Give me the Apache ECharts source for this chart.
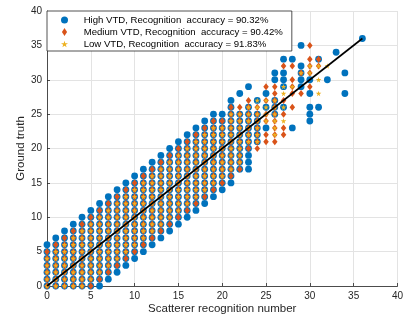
<!DOCTYPE html>
<head>
    <meta charset="utf-8">
    <title>ECharts</title>
    <script src="https://cdn.jsdelivr.net/npm/echarts@6/dist/echarts.min.js"></script>
    <style>
        html, body { margin: 0; padding: 0; background: #fff; }
    </style>
</head>
<body>
    <div id="container" style="width:406px;height:325px"></div>
    <script type="text/javascript">

        // scatterer recognition number (x) for each column
        var xCols = [0, 1, 2, 3, 4, 5, 6, 7, 8, 9, 10, 11, 12, 13, 14, 15, 16, 17, 18,
                     19, 20, 21, 22, 23, 24, 25, 26, 27, 28, 29, 30, 31, 32, 33, 34, 35, 36];

        // ground truth values found in each column ("a-b" is a run of integers)
        var highCols = ['0-6', '0-7', '0-8', '0-9', '0-10', '0-11', '0-12', '1-13', '2-14', '3-15',
                        '4-16', '5-17', '6-18', '7-19', '8-20', '9-21', '10-22', '11-23', '12-24', '13-25',
                        '14-25', '15-27', '17-25,28', '17-26,29', '21-25,27', '23,26,28', '25-27,30,31',
                        '26,29-31,33', '23,33', '29-32,35', '24-26,28,30', '26,33', '30', '34', '28,31', '', '36'];

        var mediumCols = ['0-5', '0-6', '0-7', '0-8', '0-9', '0-10', '1-11', '2-12', '3-13', '4-14',
                          '5-15', '6-16', '7-17', '8-18', '9-19', '10-20', '11-21', '12-22', '13-23', '14-24',
                          '15-24', '16-26', '17-26', '20-27', '20-26', '21,22,24,25,27,29', '21-29',
                          '22,23,25,27,32', '26,28-30,32', '28,31', '29,31-33,35', '32,33', '', '', '', '', ''];

        var lowCols = ['0-4', '0-5', '0-6', '0-7', '0-8', '1-9', '2-10', '3-11', '4-12', '5-13',
                       '6-14', '7-15', '8-16', '9-17', '10-18', '11-19', '12-20', '13-21', '14-22', '15-23',
                       '16-23', '17-25', '18-25', '21-26', '21-27', '24-27', '22-27',
                       '24,26,28,29', '29', '31', '31,32', '28,30,32', '32', '', '', '', ''];

        var seriesNames = ['High VTD, Recognition  accuracy = 90.32%',
                           'Medium VTD, Recognition  accuracy = 90.42%',
                           'Low VTD, Recognition  accuracy = 91.83%'];

        // y = x reference line
        var refLine = [[0, 0], [36, 36]];

        function toPoints(cols) {
            var pts = [];
            for (var i = 0; i < cols.length; i++) {
                if (!cols[i]) continue;
                var parts = cols[i].split(',');
                for (var j = 0; j < parts.length; j++) {
                    var p = parts[j].split('-');
                    var a = +p[0], b = p.length > 1 ? +p[1] : a;
                    for (var y = a; y <= b; y++) pts.push([xCols[i], y]);
                }
            }
            return pts;
        }

        var starPath = 'path://M50,0 L61,35 L98,35 L68,57 L79,91 L50,70 L21,91 L32,57 L2,35 L39,35 Z';
        var diamondPath = 'path://M32,0 L64,50 L32,100 L0,50 Z';
        var axisColor = '#262626';
        var fontFamily = '"Liberation Sans", Arial, sans-serif';

        var dom = document.getElementById("container");
        var myChart = echarts.init(dom, null, { renderer: 'canvas' });

        var axisCommon = {
            type: 'value',
            min: 0,
            max: 40,
            interval: 5,
            nameLocation: 'middle',
            nameMoveOverlap: false,
            nameTextStyle: { color: axisColor, fontSize: 11.5, fontFamily: fontFamily },
            axisLine: { show: true, lineStyle: { color: axisColor, width: 0.8 } },
            axisTick: { show: true, inside: true, length: 3, lineStyle: { color: axisColor, width: 0.8 } },
            axisLabel: { color: axisColor, fontSize: 10, fontFamily: fontFamily },
            splitLine: { show: true, lineStyle: { color: '#e3e3e3', width: 1 } }
        };

        var option = {
            animation: false,
            backgroundColor: '#fff',
            grid: { left: 47, right: 8, top: 11, bottom: 39, containLabel: false },
            legend: {
                data: [
                    { name: seriesNames[0], icon: 'circle' },
                    { name: seriesNames[1], icon: diamondPath },
                    { name: seriesNames[2], icon: starPath }
                ],
                formatter: function (name) { return '    ' + name; },
                orient: 'vertical',
                left: 47,
                top: 11,
                itemWidth: 7,
                itemHeight: 8,
                itemGap: 2,
                padding: [4, 9, 2, 14],
                backgroundColor: '#fff',
                borderColor: axisColor,
                borderWidth: 0.8,
                borderRadius: 0,
                textStyle: { color: '#000', fontSize: 9.6, fontFamily: fontFamily }
            },
            xAxis: echarts.util.merge({
                name: 'Scatterer recognition number',
                nameGap: 17,
                axisLabel: { margin: 5 }
            }, axisCommon),
            yAxis: echarts.util.merge({
                name: 'Ground truth',
                nameGap: 20,
                axisLabel: { margin: 5 }
            }, axisCommon),
            series: [
                {
                    name: seriesNames[0],
                    type: 'scatter',
                    symbol: 'circle',
                    symbolSize: 6.8,
                    itemStyle: { color: '#0072BD', opacity: 1 },
                    data: toPoints(highCols)
                },
                {
                    name: seriesNames[1],
                    type: 'scatter',
                    symbol: 'diamond',
                    symbolSize: [5.5, 7],
                    itemStyle: { color: '#D95319', opacity: 1 },
                    data: toPoints(mediumCols)
                },
                {
                    name: seriesNames[2],
                    type: 'scatter',
                    symbol: starPath,
                    symbolSize: 5.5,
                    itemStyle: { color: '#EDB120', opacity: 1 },
                    data: toPoints(lowCols)
                },
                {
                    type: 'line',
                    data: refLine,
                    symbol: 'none',
                    silent: true,
                    z: 5,
                    lineStyle: { color: '#000', width: 1.6 }
                }
            ]
        };

        myChart.setOption(option);

    </script>
</body>
